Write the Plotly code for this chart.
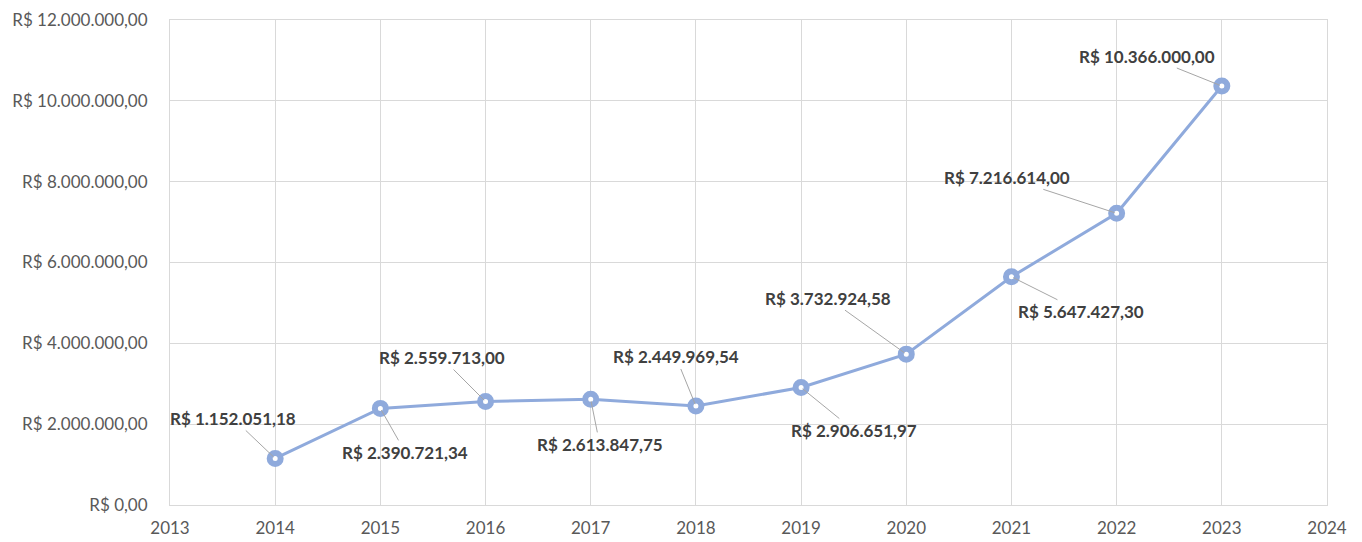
import plotly.graph_objects as go

years = [2014, 2015, 2016, 2017, 2018, 2019, 2020, 2021, 2022, 2023]
values = [1152051.18, 2390721.34, 2559713.00, 2613847.75, 2449969.54,
          2906651.97, 3732924.58, 5647427.30, 7216614.00, 10366000.00]
labels = ["R$ 1.152.051,18", "R$ 2.390.721,34", "R$ 2.559.713,00", "R$ 2.613.847,75",
          "R$ 2.449.969,54", "R$ 2.906.651,97", "R$ 3.732.924,58", "R$ 5.647.427,30",
          "R$ 7.216.614,00", "R$ 10.366.000,00"]
# label offsets (pixels) relative to each point
label_dx = [-42, 25, -44, 9, -20, 53, -78, 70, -110, -75]
label_dy = [-40, 44, -44, 45, -49, 43, -56, 35, -36, -30]

y_ticks = [0, 2000000, 4000000, 6000000, 8000000, 10000000, 12000000]
y_ticktext = ["R$ 0,00", "R$ 2.000.000,00", "R$ 4.000.000,00", "R$ 6.000.000,00",
              "R$ 8.000.000,00", "R$ 10.000.000,00", "R$ 12.000.000,00"]
x_ticks = list(range(2013, 2025))

line_color = "#8FAADC"
font_family = "Lato, Liberation Sans, sans-serif"

fig = go.Figure()
fig.add_trace(go.Scatter(
    x=years, y=values, mode="lines+markers",
    line=dict(color=line_color, width=3),
    marker=dict(size=11, color="white", symbol="circle",
                line=dict(color=line_color, width=6)),
    hoverinfo="skip", showlegend=False,
))

for x, y, t, dx, dy in zip(years, values, labels, label_dx, label_dy):
    fig.add_annotation(
        x=x, y=y, text="<b>" + t + "</b>", showarrow=True,
        ax=dx, ay=dy, arrowhead=0, arrowwidth=1, arrowcolor="#A6A6A6",
        standoff=2,
        font=dict(family=font_family, size=17, color="#404040"),
    )

fig.update_layout(
    width=1362, height=542,
    margin=dict(l=162, r=43, t=12, b=45, autoexpand=False),
    paper_bgcolor="white", plot_bgcolor="white",
    font=dict(family=font_family, size=17, color="#595959"),
)
fig.update_xaxes(
    range=[2013, 2024], tickvals=x_ticks, ticktext=[str(v) for v in x_ticks],
    showgrid=True, gridcolor="#D9D9D9", gridwidth=1,
    showline=True, linecolor="#D9D9D9", linewidth=1, mirror=True,
    ticks="", zeroline=False, tickfont=dict(size=17, color="#595959"),
    ticklabelstandoff=8, automargin=False,
)
fig.update_yaxes(
    range=[0, 12000000], tickvals=y_ticks, ticktext=y_ticktext,
    showgrid=True, gridcolor="#D9D9D9", gridwidth=1,
    showline=True, linecolor="#D9D9D9", linewidth=1, mirror=True,
    ticks="", zeroline=False, tickfont=dict(size=17, color="#595959"),
    ticklabelstandoff=18, automargin=False,
)

fig.write_html("out.html")
